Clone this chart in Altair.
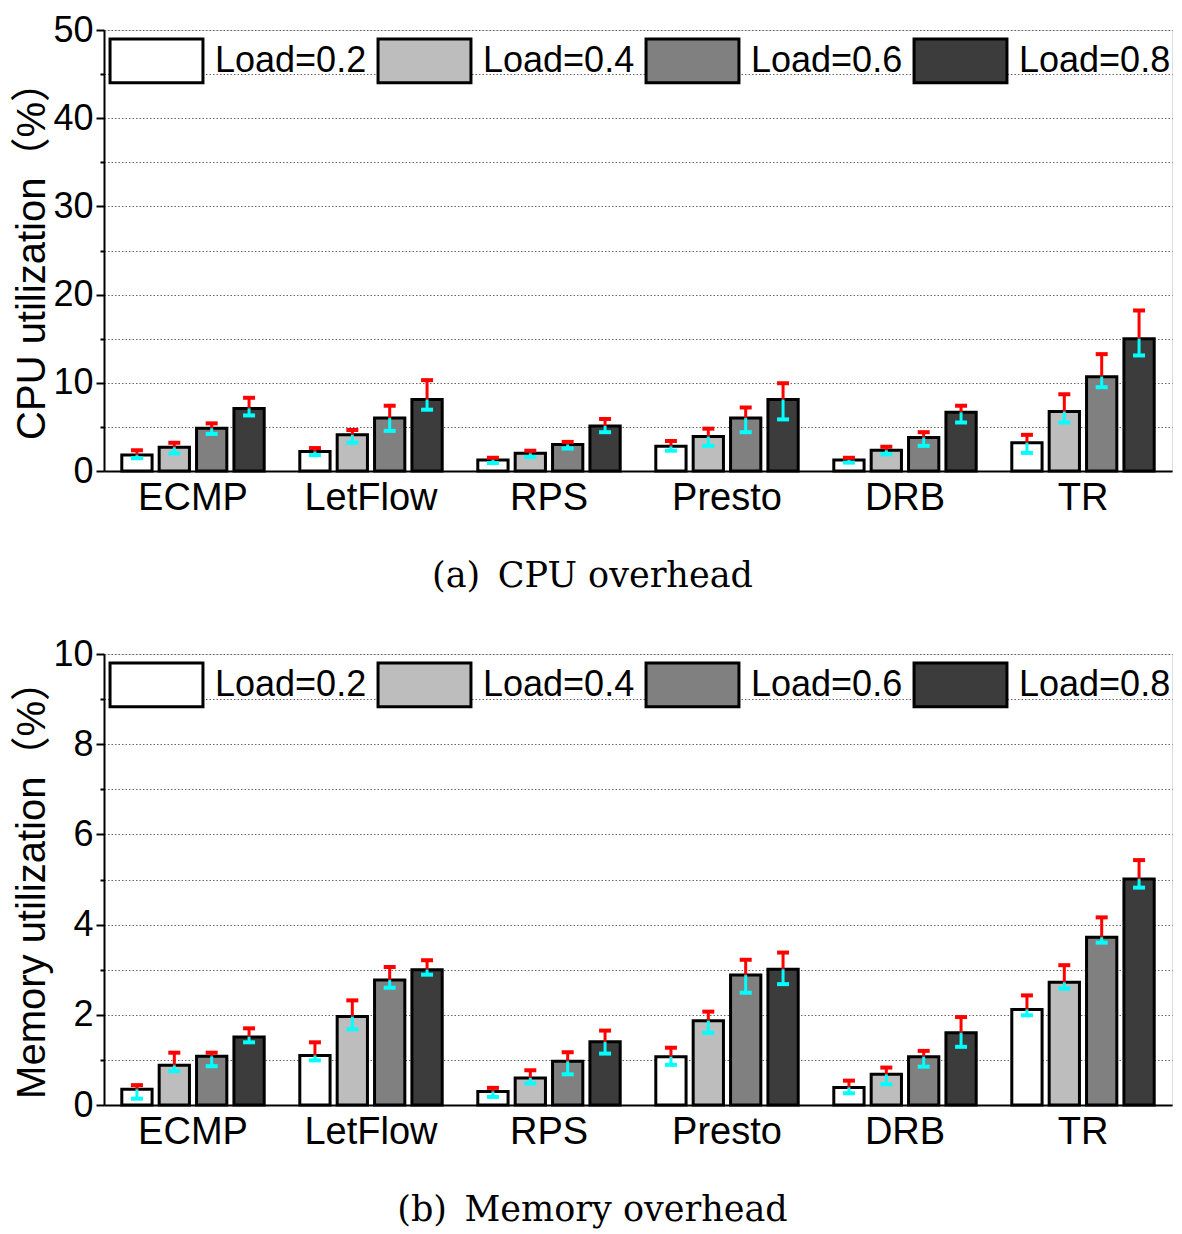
import altair as alt
import pandas as pd

categories = ["ECMP", "LetFlow", "RPS", "Presto", "DRB", "TR"]
loads = ["Load=0.2", "Load=0.4", "Load=0.6", "Load=0.8"]
fill_colors = ["#ffffff", "#bdbdbd", "#808080", "#3c3c3c"]

# CPU utilization (%) — bar values, upper (red) and lower (cyan) error ends
cpu_02 = [1.8, 2.2, 1.25, 2.8, 1.25, 3.2]
cpu_04 = [2.7, 4.1, 2.0, 3.9, 2.35, 6.75]
cpu_06 = [4.85, 6.0, 3.0, 6.0, 3.8, 10.7]
cpu_08 = [7.1, 8.1, 5.1, 8.1, 6.65, 15.0]
cpu_up_02 = [2.35, 2.6, 1.5, 3.4, 1.5, 4.1]
cpu_up_04 = [3.2, 4.65, 2.3, 4.8, 2.75, 8.7]
cpu_up_06 = [5.4, 7.4, 3.3, 7.2, 4.4, 13.25]
cpu_up_08 = [8.3, 10.3, 5.9, 9.95, 7.4, 18.2]
cpu_lo_02 = [1.45, 1.8, 0.9, 2.3, 0.95, 2.05]
cpu_lo_04 = [2.0, 3.2, 1.6, 2.85, 1.9, 5.5]
cpu_lo_06 = [4.2, 4.55, 2.55, 4.4, 2.85, 9.5]
cpu_lo_08 = [6.3, 6.95, 4.4, 5.85, 5.5, 13.1]

# Memory utilization (%)
mem_02 = [0.35, 1.1, 0.3, 1.07, 0.39, 2.12]
mem_04 = [0.88, 1.96, 0.6, 1.87, 0.68, 2.72]
mem_06 = [1.08, 2.77, 0.97, 2.88, 1.07, 3.72]
mem_08 = [1.51, 3.0, 1.40, 3.01, 1.6, 5.01]
mem_up_02 = [0.44, 1.39, 0.38, 1.27, 0.54, 2.43]
mem_up_04 = [1.16, 2.32, 0.77, 2.07, 0.83, 3.1]
mem_up_06 = [1.16, 3.06, 1.17, 3.22, 1.2, 4.16]
mem_up_08 = [1.70, 3.21, 1.65, 3.38, 1.95, 5.43]
mem_lo_02 = [0.14, 0.99, 0.18, 0.89, 0.26, 1.99]
mem_lo_04 = [0.75, 1.68, 0.48, 1.6, 0.46, 2.58]
mem_lo_06 = [0.86, 2.6, 0.68, 2.49, 0.85, 3.6]
mem_lo_08 = [1.39, 2.89, 1.14, 2.68, 1.29, 4.82]

cpu_ticks = [0, 5, 10, 15, 20, 25, 30, 35, 40, 45, 50]
mem_ticks = [0, 1, 2, 3, 4, 5, 6, 7, 8, 9, 10]

SANS = "Liberation Sans, Noto Sans CJK SC"
SERIF = "DejaVu Serif"
W = 1068
H_TOP = 441
H_BOTTOM = 451


def make_df(means, ups, lows):
    rows = []
    for li, load in enumerate(loads):
        for ci, cat in enumerate(categories):
            rows.append({"scheme": cat, "load": load, "value": means[li][ci],
                         "upper": ups[li][ci], "lower": lows[li][ci]})
    return pd.DataFrame(rows)


cpu_df = make_df([cpu_02, cpu_04, cpu_06, cpu_08],
                 [cpu_up_02, cpu_up_04, cpu_up_06, cpu_up_08],
                 [cpu_lo_02, cpu_lo_04, cpu_lo_06, cpu_lo_08])
mem_df = make_df([mem_02, mem_04, mem_06, mem_08],
                 [mem_up_02, mem_up_04, mem_up_06, mem_up_08],
                 [mem_lo_02, mem_lo_04, mem_lo_06, mem_lo_08])


def panel(df, ticks, major, ytitle, caption, height):
    x = alt.X("scheme:N", sort=categories,
              scale=alt.Scale(paddingInner=0.2, paddingOuter=0.1),
              axis=alt.Axis(title=None, labelAngle=0, labelFontSize=38, labelFont=SANS,
                            labelColor="black", ticks=False, domainColor="black",
                            domainWidth=2, labelPadding=8))
    xo = alt.XOffset("load:N", sort=loads, scale=alt.Scale(paddingInner=0.19))
    yscale = alt.Scale(domain=[ticks[0], ticks[-1]], nice=False)
    yaxis = alt.Axis(values=ticks, title=ytitle, titleFont=SANS, titleFontSize=40,
                     titleFontWeight="normal", titleColor="black", titlePadding=0,
                     labelFont=SANS, labelFontSize=36, labelColor="black", labelPadding=3,
                     labelExpr=f"datum.value % {major} == 0 ? datum.label : ''",
                     tickColor="black", tickWidth=2,
                     tickSize={"condition": {"test": f"datum.value % {major} == 0", "value": 8}, "value": 4},
                     domainColor="black", domainWidth=2,
                     grid=True, gridColor="#666666", gridDash=[1.5, 2], gridWidth=1.2)
    bars = alt.Chart(df).mark_bar(stroke="black", strokeWidth=3).encode(
        x=x, xOffset=xo,
        y=alt.Y("value:Q", scale=yscale, axis=yaxis),
        fill=alt.Fill("load:N", sort=loads,
                      scale=alt.Scale(domain=loads, range=fill_colors),
                      legend=alt.Legend(title=None, orient="none", legendX=28, legendY=6,
                                        direction="horizontal", columns=4,
                                        symbolType="M-2.02,-0.95H2.02V0.95H-2.02Z", symbolSize=2116,
                                        symbolStrokeColor="black", symbolStrokeWidth=3,
                                        symbolOpacity=1,
                                        labelFont=SANS, labelFontSize=36, labelColor="black",
                                        labelOffset=34, columnPadding=5, padding=0,
                                        labelLimit=400)),
    )
    red_rule = alt.Chart(df).mark_rule(color="#ff0000", strokeWidth=3).encode(
        x=x, xOffset=xo, y="value:Q", y2="upper:Q")
    red_cap = alt.Chart(df).mark_tick(color="#ff0000", thickness=4, size=12,
                                      orient="horizontal", opacity=1).encode(
        x=x, xOffset=xo, y="upper:Q")
    cyan_rule = alt.Chart(df).mark_rule(color="#00ffff", strokeWidth=3).encode(
        x=x, xOffset=xo, y="lower:Q", y2="value:Q")
    cyan_cap = alt.Chart(df).mark_tick(color="#00ffff", thickness=4, size=12,
                                       orient="horizontal", opacity=1).encode(
        x=x, xOffset=xo, y="lower:Q")
    return alt.layer(bars, red_rule, red_cap, cyan_rule, cyan_cap).properties(
        width=W, height=height,
        title=alt.TitleParams(text=caption, orient="bottom", anchor="middle", frame="bounds",
                              font=SERIF, fontSize=35, fontWeight="normal", color="black",
                              offset=42),
    )


top = panel(cpu_df, cpu_ticks, 10, "CPU utilization（%）", "(a)\u2002CPU overhead", H_TOP)
bottom = panel(mem_df, mem_ticks, 2, "Memory utilization（%）", "(b)\u2002Memory overhead", H_BOTTOM)

chart = alt.vconcat(top, bottom, spacing=40).resolve_scale(
    fill="independent", y="independent", x="independent"
).resolve_legend(fill="independent").properties(
    padding={"left": 4, "top": 3, "right": 0, "bottom": 0}
).configure_view(stroke="black", strokeWidth=2).configure(background="white")

chart.save("out.html", embed_options={"renderer": "svg", "actions": False})
